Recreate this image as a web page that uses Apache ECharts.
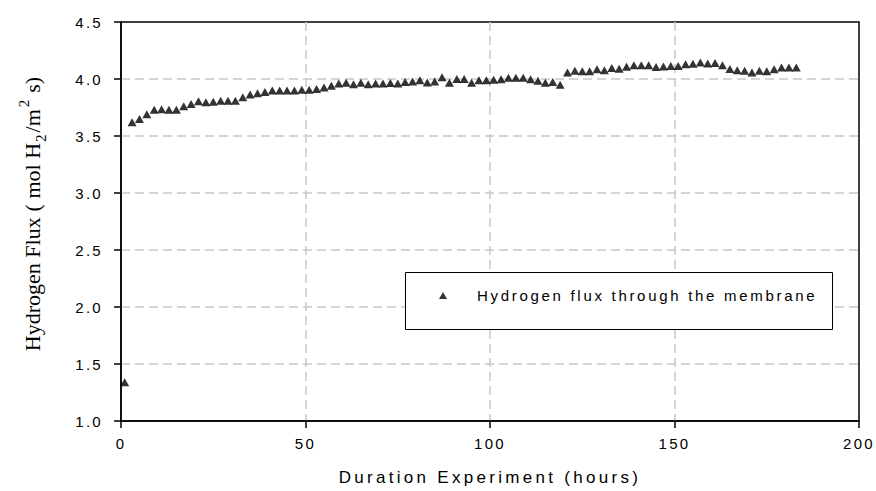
<!DOCTYPE html>
<html>
<head>
<meta charset="utf-8">
<script src="https://cdn.jsdelivr.net/npm/echarts@6/dist/echarts.min.js"></script>
<style>
  html, body { margin: 0; padding: 0; background: #fff; }
  #chart { width: 876px; height: 491px; }
  /* widen the sans-serif labels the way the printed figure spaces them */
  #chart text[style*="tickface"] { letter-spacing: 2.3px; }
  #chart text[style*="legendface"] { letter-spacing: 2.7px; }
  #chart text[style*="titleface"] { letter-spacing: 3.3px; }
</style>
</head>
<body>
<div id="chart"></div>
<script>
// Elapsed time of each reading (hours)
const hours = [
  1,
  3, 5, 7, 9, 11, 13, 15, 17, 19, 21, 23, 25, 27, 29, 31, 33, 35, 37, 39, 41,
  43, 45, 47, 49, 51, 53, 55, 57, 59, 61, 63, 65, 67, 69, 71, 73, 75, 77, 79, 81,
  83, 85, 87, 89, 91, 93, 95, 97, 99, 101, 103, 105, 107, 109, 111, 113, 115, 117, 119,
  121, 123, 125, 127, 129, 131, 133, 135, 137, 139, 141, 143, 145, 147, 149, 151,
  153, 155, 157, 159, 161, 163, 165, 167, 169, 171, 173, 175, 177, 179, 181, 183
];

// Hydrogen flux measured at each reading (mol H2 / m2 s)
const flux = [
  1.34,
  3.62, 3.65, 3.69, 3.73, 3.735, 3.73, 3.73, 3.76, 3.78, 3.805, 3.795, 3.80, 3.81, 3.81, 3.81, 3.84, 3.865, 3.875, 3.885, 3.90,
  3.90, 3.90, 3.90, 3.905, 3.905, 3.913, 3.925, 3.94, 3.96, 3.968, 3.954, 3.968, 3.954, 3.96, 3.96, 3.965, 3.96, 3.974, 3.977, 3.99,
  3.97, 3.977, 4.015, 3.968, 4.0, 4.0, 3.968, 3.99, 3.99, 3.993, 3.997, 4.01, 4.01, 4.01, 3.997, 3.985, 3.968, 3.974, 3.95,
  4.058, 4.073, 4.068, 4.068, 4.085, 4.076, 4.096, 4.09, 4.107, 4.12, 4.12, 4.12, 4.105, 4.11, 4.115, 4.115,
  4.13, 4.133, 4.145, 4.137, 4.14, 4.12, 4.087, 4.076, 4.073, 4.058, 4.073, 4.068, 4.085, 4.1, 4.1, 4.1
];

const seriesName = 'Hydrogen flux through the membrane';
const xTitle = 'Duration Experiment (hours)';
const yTitle = '{b|Hydrogen Flux}{g|( mol H}{sub|2}{b|/m}{sup|2}{s|s)}';

const xRange = { min: 0, max: 200, step: 50 };
const yRange = { min: 1.0, max: 4.5, step: 0.5 };

const sansTick = "tickface, 'Liberation Sans', Arial, sans-serif";
const sansLegend = "legendface, 'Liberation Sans', Arial, sans-serif";
const sansTitle = "titleface, 'Liberation Sans', Arial, sans-serif";
const serif = "'Liberation Serif', 'Times New Roman', serif";

const gridLine = { color: '#c8c8c8', width: 1.5, type: [9, 5] };
const blackLine = { color: '#000', width: 1.5 };

const chart = echarts.init(document.getElementById('chart'), null, { renderer: 'svg' });

const base = { fontFamily: serif, fontSize: 22, lineHeight: 32, verticalAlign: 'middle', fill: '#000' };
const small = { fontFamily: serif, fontSize: 15, lineHeight: 15, fill: '#000' };

chart.setOption({
  animation: false,
  backgroundColor: '#fff',
  grid: {
    left: 121, right: 17, top: 22, bottom: 68,
    show: true, borderColor: '#000', borderWidth: 1.5, backgroundColor: 'transparent'
  },
  xAxis: {
    type: 'value',
    min: xRange.min, max: xRange.max, interval: xRange.step,
    axisLine: { show: true, lineStyle: blackLine },
    axisTick: { show: true, inside: false, length: 7, lineStyle: blackLine },
    axisLabel: { margin: 15, fontSize: 15, fontFamily: sansTick, color: '#000' },
    splitLine: { show: true, showMinLine: false, showMaxLine: false, lineStyle: gridLine },
    name: xTitle,
    nameLocation: 'middle',
    nameGap: 48,
    nameTextStyle: { fontSize: 17, fontFamily: sansTitle, color: '#000' }
  },
  yAxis: {
    type: 'value',
    min: yRange.min, max: yRange.max, interval: yRange.step,
    axisLine: { show: true, lineStyle: blackLine },
    axisTick: { show: true, inside: false, length: 7, lineStyle: blackLine },
    axisLabel: {
      margin: 18, fontSize: 15, fontFamily: sansTick, color: '#000',
      formatter: v => v.toFixed(1)
    },
    splitLine: { show: true, showMinLine: false, showMaxLine: false, lineStyle: gridLine }
  },
  legend: {
    data: [{ name: seriesName, icon: 'triangle' }],
    left: 439, top: 288,
    padding: 0,
    itemWidth: 8, itemHeight: 7,
    selectedMode: false,
    z: 10,
    itemStyle: { color: '#000' },
    textStyle: { fontSize: 15, fontFamily: sansLegend, color: '#000', padding: [0, 0, 0, 25] }
  },
  graphic: [
    {
      type: 'rect', z: 5,
      shape: { x: 405.5, y: 272.5, width: 427, height: 57 },
      style: { fill: '#fff', stroke: '#000', lineWidth: 1 }
    },
    {
      type: 'text', z: 5,
      x: 32, y: 214, rotation: Math.PI / 2,
      style: {
        text: yTitle,
        align: 'center', verticalAlign: 'middle',
        fill: '#000',
        rich: {
          b: base,
          g: Object.assign({}, base, { padding: [0, 0, 0, 6] }),
          s: Object.assign({}, base, { padding: [0, 0, 0, 5] }),
          sub: Object.assign({}, small, { verticalAlign: 'bottom', padding: [0, 2, 0, 1] }),
          sup: Object.assign({}, small, { verticalAlign: 'top', padding: [0, 2, 0, 2] })
        }
      }
    }
  ],
  series: [
    {
      name: seriesName,
      type: 'scatter',
      symbol: 'triangle',
      symbolSize: [9, 8],
      itemStyle: { color: '#000' },
      z: 3,
      data: hours.map((h, i) => [h, flux[i]])
    }
  ]
});
</script>
</body>
</html>
